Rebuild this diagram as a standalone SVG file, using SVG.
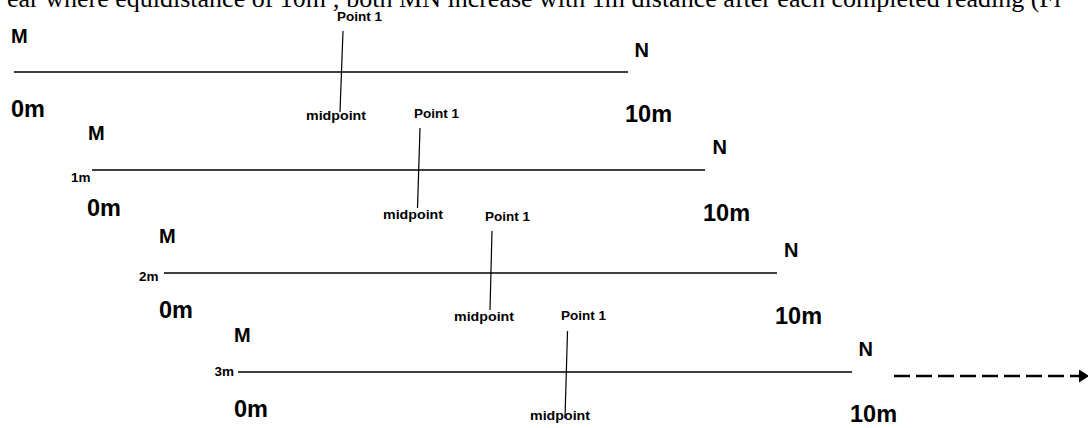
<svg xmlns="http://www.w3.org/2000/svg" width="1088" height="428" viewBox="0 0 1088 428">
<defs>
<style>
.cap{font-family:"Liberation Serif",serif;font-size:26px;fill:#000}
.big{font-family:"Liberation Sans",Arial,sans-serif;font-weight:bold;font-size:20px;fill:#000}
.dist{font-family:"Liberation Sans",Arial,sans-serif;font-weight:bold;font-size:23.5px;fill:#000}
.sm{font-family:"Liberation Sans",Arial,sans-serif;font-weight:bold;font-size:12.5px;fill:#000}
.mk{font-family:"Liberation Sans",Arial,sans-serif;font-weight:bold;font-size:13.5px;fill:#000}
.base{stroke:#000;stroke-width:1.3;fill:none}
.tick{stroke:#000;stroke-width:1.2;fill:none}
.dash{stroke:#000;stroke-width:2.5;stroke-dasharray:16 6;fill:none}
</style>
<marker id="ah" viewBox="0 0 10 10" refX="10" refY="5" markerWidth="4" markerHeight="5.2" markerUnits="strokeWidth" orient="auto" preserveAspectRatio="none">
<path d="M0,0 L10,5 L0,10 Z" fill="#000"/>
</marker>
</defs>
<rect width="1088" height="428" fill="#fff"/>
<text class="cap" x="7" y="7">ear where equidistance of 10m ; both MN increase with 1m distance after each completed reading (Fi</text>

<g id="row1">
<text class="big" x="11" y="43">M</text>
<text class="big" x="634.5" y="57">N</text>
<text class="dist" x="11" y="117">0m</text>
<text class="dist" x="625" y="122">10m</text>
<text class="sm" x="337" y="21" textLength="45" lengthAdjust="spacingAndGlyphs">Point 1</text>
<text class="sm" x="306" y="119.5" textLength="60" lengthAdjust="spacingAndGlyphs">midpoint</text>
</g>
<g id="row2">
<text class="big" x="88" y="140">M</text>
<text class="big" x="712.5" y="154">N</text>
<text class="mk" x="71" y="182">1m</text>
<text class="dist" x="87" y="216">0m</text>
<text class="dist" x="703" y="221">10m</text>
<text class="sm" x="414" y="118" textLength="45" lengthAdjust="spacingAndGlyphs">Point 1</text>
<text class="sm" x="383" y="218.5" textLength="60" lengthAdjust="spacingAndGlyphs">midpoint</text>
</g>
<g id="row3">
<text class="big" x="159" y="243">M</text>
<text class="big" x="784" y="257">N</text>
<text class="mk" x="139" y="281">2m</text>
<text class="dist" x="159" y="318">0m</text>
<text class="dist" x="775" y="324">10m</text>
<text class="sm" x="485" y="221" textLength="45" lengthAdjust="spacingAndGlyphs">Point 1</text>
<text class="sm" x="454" y="320.5" textLength="60" lengthAdjust="spacingAndGlyphs">midpoint</text>
</g>
<g id="row4">
<text class="big" x="234" y="342">M</text>
<text class="big" x="858.5" y="356">N</text>
<text class="mk" x="214.5" y="376">3m</text>
<text class="dist" x="234" y="417">0m</text>
<text class="dist" x="850" y="422">10m</text>
<text class="sm" x="561" y="320" textLength="45" lengthAdjust="spacingAndGlyphs">Point 1</text>
<text class="sm" x="530" y="419.5" textLength="60" lengthAdjust="spacingAndGlyphs">midpoint</text>
</g>

<g id="connectors">
<line class="base" x1="14" y1="72" x2="628" y2="72"/>
<line class="base" x1="92" y1="170" x2="705" y2="170"/>
<line class="base" x1="164" y1="273" x2="777" y2="273"/>
<line class="base" x1="238" y1="372" x2="852" y2="372"/>
<line class="tick" x1="343" y1="31" x2="340" y2="112"/>
<line class="tick" x1="420" y1="128" x2="417.5" y2="208"/>
<line class="tick" x1="492" y1="231" x2="490" y2="310"/>
<line class="tick" x1="567.5" y1="331" x2="565" y2="418"/>
<line class="dash" x1="894" y1="376" x2="1089" y2="376" marker-end="url(#ah)"/>
</g>
</svg>
